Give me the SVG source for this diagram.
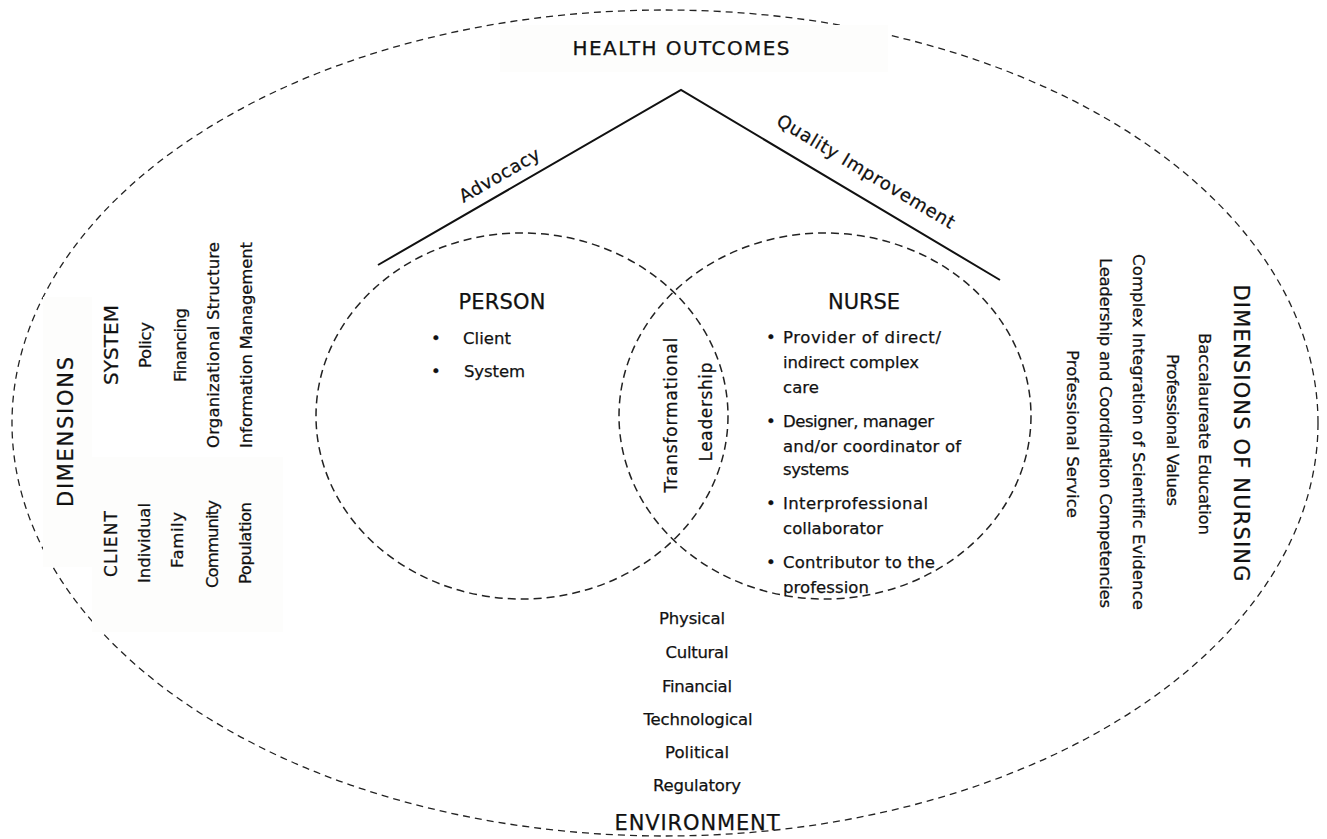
<svg xmlns="http://www.w3.org/2000/svg" width="1327" height="839" viewBox="0 0 1327 839">
<style>
  text { font-family: "DejaVu Sans", "Open Sans", sans-serif; fill: #111; stroke: #111; stroke-width: 0.25; }
  .t16 { font-size: 16.5px; }
  .t17 { font-size: 17px; }
  .t18 { font-size: 18px; }
  .t20 { font-size: 20px; }
  .t21 { font-size: 21px; }
  .mid { text-anchor: middle; }
  .outer { fill: none; stroke: #222; stroke-width: 1.3; stroke-dasharray: 7 5; }
  .venn { fill: none; stroke: #222; stroke-width: 1.5; stroke-dasharray: 8 5; }
  .edge { fill: none; stroke: #111; stroke-width: 2; }
  .pad { fill: #fdfdfc; stroke: none; }
</style>
<rect x="0" y="0" width="1327" height="839" fill="#ffffff"/>

<g id="environment-boundary">
  <ellipse class="outer" cx="665" cy="423" rx="653" ry="413"/>
</g>

<g id="backdrops">
  <rect class="pad" x="500" y="25" width="388" height="47"/>
  <rect class="pad" x="43" y="297" width="49" height="270"/>
  <rect class="pad" x="92" y="457" width="191" height="175"/>
</g>

<g id="connectors">
  <polyline class="edge" points="378,265 681,90 1000,280"/>
</g>

<g id="health-outcomes">
  <text class="t20 mid" x="681" y="55" textLength="217">HEALTH OUTCOMES</text>
</g>

<g id="advocacy">
  <text class="t18 mid" transform="translate(508,190) rotate(-30)" x="0" y="-11" textLength="90">Advocacy</text>
</g>

<g id="quality-improvement">
  <text class="t18 mid" transform="translate(853,193) rotate(31)" x="0" y="-19" textLength="204">Quality Improvement</text>
</g>

<g id="person">
  <ellipse class="venn" cx="522" cy="416" rx="206" ry="183"/>
  <text class="t21 mid" x="502" y="309" textLength="87">PERSON</text>
  <text class="t16" x="431" y="344">•</text>
  <text class="t16" x="463" y="344" textLength="48">Client</text>
  <text class="t16" x="431" y="377">•</text>
  <text class="t16" x="464" y="377" textLength="61">System</text>
</g>

<g id="nurse">
  <ellipse class="venn" cx="825" cy="416" rx="206" ry="183"/>
  <text class="t21 mid" x="864" y="309" textLength="72">NURSE</text>
  <text class="t16" x="766" y="343">•</text>
  <text class="t16" x="783" y="343" textLength="158">Provider of direct/</text>
  <text class="t16" x="783" y="368" textLength="136">indirect complex</text>
  <text class="t16" x="783" y="393" textLength="36">care</text>
  <text class="t16" x="766" y="427">•</text>
  <text class="t16" x="783" y="427" textLength="151">Designer, manager</text>
  <text class="t16" x="783" y="452" textLength="178">and/or coordinator of</text>
  <text class="t16" x="783" y="475" textLength="66">systems</text>
  <text class="t16" x="766" y="509">•</text>
  <text class="t16" x="783" y="509" textLength="145">Interprofessional</text>
  <text class="t16" x="783" y="534" textLength="100">collaborator</text>
  <text class="t16" x="766" y="568">•</text>
  <text class="t16" x="783" y="568" textLength="152">Contributor to the</text>
  <text class="t16" x="783" y="593" textLength="86">profession</text>
</g>

<g id="transformational-leadership">
  <text class="t17 mid" transform="translate(677,415) rotate(-90)" x="0" y="0" textLength="155">Transformational</text>
  <text class="t17 mid" transform="translate(712,412) rotate(-90)" x="0" y="0" textLength="99">Leadership</text>
</g>

<g id="dimensions-client-system">
  <text class="t21 mid" transform="translate(73,432) rotate(-90)" x="0" y="0" textLength="150">DIMENSIONS</text>
  <text class="t20 mid" transform="translate(118,345) rotate(-90)" x="0" y="0" textLength="80">SYSTEM</text>
  <text class="t16 mid" transform="translate(151,345) rotate(-90)" x="0" y="0" textLength="46">Policy</text>
  <text class="t16 mid" transform="translate(186,345) rotate(-90)" x="0" y="0" textLength="74">Financing</text>
  <text class="t16 mid" transform="translate(219,345) rotate(-90)" x="0" y="0" textLength="206">Organizational Structure</text>
  <text class="t16 mid" transform="translate(252,345) rotate(-90)" x="0" y="0" textLength="206">Information Management</text>
  <text class="t17 mid" transform="translate(117,544) rotate(-90)" x="0" y="0" textLength="66">CLIENT</text>
  <text class="t16 mid" transform="translate(150,543) rotate(-90)" x="0" y="0" textLength="80">Individual</text>
  <text class="t16 mid" transform="translate(183,540) rotate(-90)" x="0" y="0" textLength="56">Family</text>
  <text class="t16 mid" transform="translate(218,544) rotate(-90)" x="0" y="0" textLength="88">Community</text>
  <text class="t16 mid" transform="translate(251,543) rotate(-90)" x="0" y="0" textLength="82">Population</text>
</g>

<g id="dimensions-of-nursing">
  <text class="t21 mid" transform="translate(1234,433) rotate(90)" x="0" y="0" textLength="297">DIMENSIONS OF NURSING</text>
  <text class="t16 mid" transform="translate(1199,434) rotate(90)" x="0" y="0" textLength="202">Baccalaureate Education</text>
  <text class="t16 mid" transform="translate(1167,430) rotate(90)" x="0" y="0" textLength="152">Professional Values</text>
  <text class="t16 mid" transform="translate(1133,432) rotate(90)" x="0" y="0" textLength="356">Complex Integration of Scientific Evidence</text>
  <text class="t16 mid" transform="translate(1100,433) rotate(90)" x="0" y="0" textLength="350">Leadership and Coordination Competencies</text>
  <text class="t16 mid" transform="translate(1067,434) rotate(90)" x="0" y="0" textLength="168">Professional Service</text>
</g>

<g id="environment">
  <text class="t16 mid" x="692" y="624" textLength="66">Physical</text>
  <text class="t16 mid" x="697" y="658" textLength="63">Cultural</text>
  <text class="t16 mid" x="697" y="692" textLength="70">Financial</text>
  <text class="t16 mid" x="698" y="725" textLength="109">Technological</text>
  <text class="t16 mid" x="697" y="758" textLength="64">Political</text>
  <text class="t16 mid" x="697" y="791" textLength="88">Regulatory</text>
  <text class="t21 mid" x="697" y="830" textLength="165">ENVIRONMENT</text>
</g>
</svg>
